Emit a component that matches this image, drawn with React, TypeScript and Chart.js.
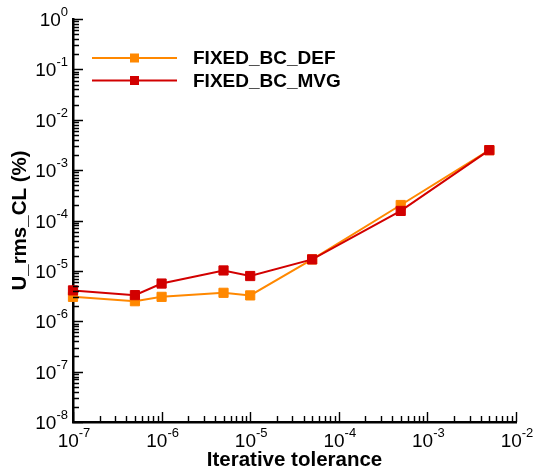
import React, { useEffect, useRef } from 'react';
import { Chart, registerables } from 'chart.js';

Chart.register(...registerables);

// ---- data ----
const tolerances = [1e-7, 5e-7, 1e-6, 5e-6, 1e-5, 5e-5, 5e-4, 5e-3];
const fixedBcDef = [3.05e-6, 2.5e-6, 3.05e-6, 3.67e-6, 3.26e-6, 1.69e-5, 2.03e-4, 2.49e-3];
const fixedBcMvg = [4.1e-6, 3.3e-6, 5.6e-6, 1.02e-5, 7.9e-6, 1.69e-5, 1.55e-4, 2.49e-3];
const seriesNames = ['FIXED_BC_DEF', 'FIXED_BC_MVG'];
const xDecades = [-7, -6, -5, -4, -3, -2];
const yDecades = [-8, -7, -6, -5, -4, -3, -2, -1, 0];
const xTitle = 'Iterative tolerance';
const yTitle = 'U_rms_CL (%)';

const ORANGE = '#ff8800';
const RED = '#d20000';
const FONT = '"Liberation Sans", Arial, Helvetica, sans-serif';

function logTicks(decades: number[]) {
  const out: { value: number }[] = [];
  for (let i = 0; i < decades.length - 1; i++) {
    for (let m = 1; m <= 9; m++) out.push({ value: m * Math.pow(10, decades[i]) });
  }
  out.push({ value: Math.pow(10, decades[decades.length - 1]) });
  return out;
}

function isMajor(v: number) {
  const l = Math.log10(v);
  return Math.abs(l - Math.round(l)) < 1e-6;
}

const axisDecor = {
  id: 'axisDecor',
  afterDraw(chart: any) {
    const ctx = chart.ctx as CanvasRenderingContext2D;
    const { left, bottom } = chart.chartArea;
    const xs = chart.scales.x;
    const ys = chart.scales.y;
    ctx.save();
    ctx.strokeStyle = '#000';
    ctx.lineWidth = 1.4;
    ctx.beginPath();
    xs.ticks.forEach((t: any) => {
      const px = Math.round(xs.getPixelForValue(t.value)) + 0.5;
      const len = isMajor(t.value) ? 10 : 6;
      ctx.moveTo(px, bottom);
      ctx.lineTo(px, bottom - len);
    });
    ys.ticks.forEach((t: any) => {
      const py = Math.round(ys.getPixelForValue(t.value)) + 0.5;
      const len = isMajor(t.value) ? 10 : 6;
      ctx.moveTo(left, py);
      ctx.lineTo(left + len, py);
    });
    ctx.stroke();

    // tick labels with superscript exponents
    ctx.fillStyle = '#000';
    ctx.textBaseline = 'alphabetic';
    const baseFont = '19px ' + FONT;
    const expFont = '13px ' + FONT;
    xs.ticks.forEach((t: any) => {
      if (!isMajor(t.value)) return;
      const e = String(Math.round(Math.log10(t.value)));
      const px = xs.getPixelForValue(t.value);
      ctx.font = baseFont;
      const w1 = ctx.measureText('10').width;
      ctx.font = expFont;
      const w2 = ctx.measureText(e).width;
      const x0 = px - (w1 + w2) / 2 + 1;
      const base = bottom + 25;
      ctx.font = baseFont;
      ctx.textAlign = 'left';
      ctx.fillText('10', x0, base);
      ctx.font = expFont;
      ctx.fillText(e, x0 + w1, base - 10);
    });
    ys.ticks.forEach((t: any) => {
      if (!isMajor(t.value)) return;
      const e = String(Math.round(Math.log10(t.value)));
      const py = ys.getPixelForValue(t.value);
      ctx.font = expFont;
      const w2 = ctx.measureText(e).width;
      const xr = left - 5;
      const base = py + 7;
      ctx.textAlign = 'right';
      ctx.fillText(e, xr, base - 10);
      ctx.font = baseFont;
      ctx.fillText('10', xr - w2, base);
    });

    // legend
    const items = [
      { name: seriesNames[0], color: ORANGE },
      { name: seriesNames[1], color: RED },
    ];
    items.forEach((it, i) => {
      const y = chart.chartArea.top + 39 + i * 22.5;
      const x1 = left + 19;
      const x2 = left + 104;
      ctx.strokeStyle = it.color;
      ctx.lineWidth = 2;
      ctx.beginPath();
      ctx.moveTo(x1, y);
      ctx.lineTo(x2, y);
      ctx.stroke();
      ctx.fillStyle = it.color;
      ctx.fillRect((x1 + x2) / 2 - 4.5, y - 4.5, 9, 9);
      ctx.fillStyle = '#000';
      ctx.font = 'bold 19px ' + FONT;
      ctx.textAlign = 'left';
      ctx.textBaseline = 'middle';
      ctx.fillText(it.name, left + 120, y + 1);
    });
    ctx.restore();
  },
};

export default function App() {
  const ref = useRef<HTMLCanvasElement | null>(null);
  useEffect(() => {
    document.body.style.margin = '0';
    const canvas = ref.current!;
    const mkData = (vals: number[]) => tolerances.map((x, i) => ({ x, y: vals[i] }));
    const chart = new Chart(canvas, {
      type: 'line',
      data: {
        datasets: [
          {
            label: seriesNames[1],
            data: mkData(fixedBcMvg),
            borderColor: RED,
            backgroundColor: RED,
            borderWidth: 2,
            pointStyle: 'rect',
            pointRadius: 6.5,
            pointBorderWidth: 1,
            pointBorderColor: RED,
            pointBackgroundColor: RED,
            order: 0,
            clip: false as any,
          },
          {
            label: seriesNames[0],
            data: mkData(fixedBcDef),
            borderColor: ORANGE,
            backgroundColor: ORANGE,
            borderWidth: 2,
            pointStyle: 'rect',
            pointRadius: 6.5,
            pointBorderWidth: 1,
            pointBorderColor: ORANGE,
            pointBackgroundColor: ORANGE,
            order: 1,
            clip: false as any,
          },
        ],
      },
      options: {
        animation: false,
        responsive: false,
        devicePixelRatio: 1,
        layout: { padding: { top: 19, right: 18, left: 0, bottom: 0 } },
        plugins: { legend: { display: false }, tooltip: { enabled: false } },
        scales: {
          x: {
            type: 'logarithmic',
            min: Math.pow(10, xDecades[0]),
            max: Math.pow(10, xDecades[xDecades.length - 1]),
            afterBuildTicks: (s: any) => { s.ticks = logTicks(xDecades); },
            afterFit: (s: any) => { s.height = 53; },
            grid: { display: false, drawTicks: false },
            border: { display: true, color: '#000', width: 2.5 },
            ticks: { display: false },
            title: {
              display: true,
              text: xTitle,
              color: '#000',
              font: { family: FONT, size: 20.5, weight: 'bold' },
              padding: { top: 0, bottom: 2 },
            },
          },
          y: {
            type: 'logarithmic',
            min: Math.pow(10, yDecades[0]),
            max: Math.pow(10, yDecades[yDecades.length - 1]),
            afterBuildTicks: (s: any) => { s.ticks = logTicks(yDecades); },
            afterFit: (s: any) => { s.width = 73; },
            grid: { display: false, drawTicks: false },
            border: { display: true, color: '#000', width: 2.5 },
            ticks: { display: false },
            title: {
              display: true,
              text: yTitle,
              color: '#000',
              font: { family: FONT, size: 20.5, weight: 'bold' },
              padding: { top: 8, bottom: 0 },
            },
          },
        },
      },
      plugins: [axisDecor],
    } as any);
    return () => chart.destroy();
  }, []);
  return <canvas ref={ref} width={534} height={475} style={{ display: 'block' }} />;
}
